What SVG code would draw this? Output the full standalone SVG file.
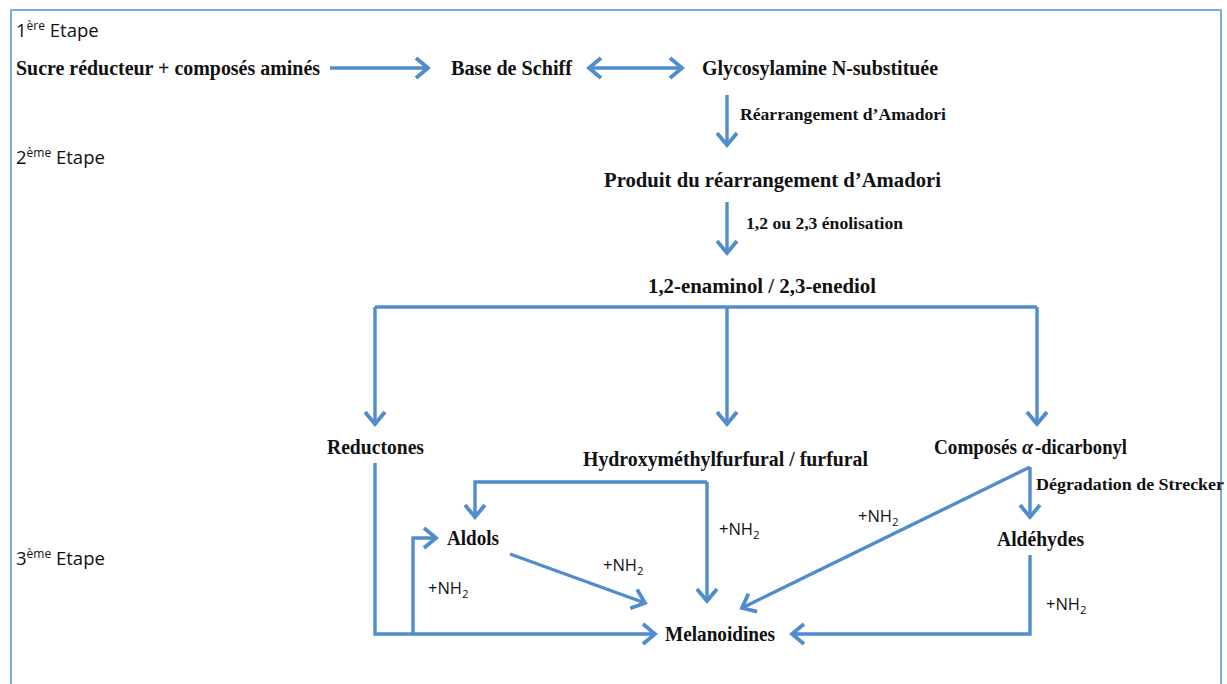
<svg xmlns="http://www.w3.org/2000/svg" width="1227" height="684" viewBox="0 0 1227 684">
  <style>
    .lbl { font-family: "Liberation Serif", "Times New Roman", serif; font-weight: bold; font-size: 20px; fill: #111; }
    .cond { font-family: "Liberation Serif", "Times New Roman", serif; font-weight: bold; font-size: 16.5px; fill: #111; }
    .stage { font-family: "Open Sans", Lato, sans-serif; font-size: 18.5px; fill: #111; }
    .sup { font-size: 12px; }
    .nh { font-family: "Open Sans", Lato, sans-serif; font-size: 16.5px; fill: #111; }
    .sub { font-size: 11.5px; }
    .wire { fill: none; stroke: #4f8dcd; stroke-width: 3.4; stroke-linejoin: miter; }
    .head { marker-end: url(#chev); }
  </style>
  <defs>
    <marker id="chev" markerUnits="userSpaceOnUse" markerWidth="22" markerHeight="24" viewBox="0 0 22 24" refX="19" refY="12" orient="auto-start-reverse">
      <path d="M7,2 L19,12 L7,22" fill="none" stroke="#4f8dcd" stroke-width="3.8"/>
    </marker>
  </defs>

  <rect width="1227" height="684" fill="#ffffff"/>
  <!-- frame: open at the bottom -->
  <path d="M11,700 V10 H1221 V700" fill="none" stroke="#7eaadd" stroke-width="2"/>

  <!-- stage headings -->
  <g id="stage1"><text class="stage" x="16" y="37">1<tspan class="sup" dy="-7">ère</tspan><tspan dy="7"> Etape</tspan></text></g>
  <g id="stage2"><text class="stage" x="16" y="164">2<tspan class="sup" dy="-7">ème</tspan><tspan dy="7"> Etape</tspan></text></g>
  <g id="stage3"><text class="stage" x="16" y="565">3<tspan class="sup" dy="-7">ème</tspan><tspan dy="7"> Etape</tspan></text></g>

  <!-- nodes -->
  <g id="sucre"><text class="lbl" x="16" y="75" textLength="304" lengthAdjust="spacingAndGlyphs">Sucre réducteur + composés aminés</text></g>
  <g id="schiff"><text class="lbl" x="451" y="75" textLength="121" lengthAdjust="spacingAndGlyphs">Base de Schiff</text></g>
  <g id="glycosylamine"><text class="lbl" x="702" y="75" textLength="236" lengthAdjust="spacingAndGlyphs">Glycosylamine  N-substituée</text></g>
  <g id="amadori"><text class="lbl" x="604" y="187" textLength="337" lengthAdjust="spacingAndGlyphs">Produit du réarrangement  d’Amadori</text></g>
  <g id="enaminol"><text class="lbl" x="648" y="293" textLength="228" lengthAdjust="spacingAndGlyphs">1,2-enaminol / 2,3-enediol</text></g>
  <g id="reductones"><text class="lbl" x="327" y="454" textLength="97" lengthAdjust="spacingAndGlyphs">Reductones</text></g>
  <g id="hmf"><text class="lbl" x="583" y="466" textLength="285" lengthAdjust="spacingAndGlyphs">Hydroxyméthylfurfural  / furfural</text></g>
  <g id="dicarbonyl">
    <text class="lbl" x="934" y="454" textLength="83" lengthAdjust="spacingAndGlyphs">Composés</text>
    <text class="lbl" x="1022" y="454" font-style="italic">α</text>
    <text class="lbl" x="1035" y="454" textLength="92" lengthAdjust="spacingAndGlyphs">-dicarbonyl</text>
  </g>
  <g id="aldols"><text class="lbl" x="447" y="545" textLength="52" lengthAdjust="spacingAndGlyphs">Aldols</text></g>
  <g id="aldehydes"><text class="lbl" x="997" y="546" textLength="87" lengthAdjust="spacingAndGlyphs">Aldéhydes</text></g>
  <g id="melanoidines"><text class="lbl" x="665" y="641" textLength="110" lengthAdjust="spacingAndGlyphs">Melanoidines</text></g>

  <!-- connectors -->
  <g id="connectors">
    <path class="wire head" d="M330,68 H428"/>
    <path class="wire head" d="M589,68 H682" marker-start="url(#chev)"/>
    <path class="wire head" d="M727,95 V145"/>
    <path class="wire head" d="M727,202 V253"/>
    <path class="wire" d="M375,307 H1037"/>
    <path class="wire head" d="M375,307 V424"/>
    <path class="wire head" d="M727,307 V424"/>
    <path class="wire head" d="M1037,307 V424"/>
    <path class="wire head" d="M375,463 V634 H655"/>
    <path class="wire head" d="M413,634 V538 H436"/>
    <path class="wire head" d="M707,482 H475 V517"/>
    <path class="wire head" d="M707,482 V601"/>
    <path class="wire head" d="M510,554 L645,603"/>
    <path class="wire head" d="M1030,467 L742,608"/>
    <path class="wire head" d="M1030,467 V517"/>
    <path class="wire head" d="M1030,555 V634 H792"/>

    <!-- connector labels -->
    <text class="cond" x="740" y="120" textLength="206" lengthAdjust="spacingAndGlyphs">Réarrangement d’Amadori</text>
    <text class="cond" x="746" y="229" textLength="157" lengthAdjust="spacingAndGlyphs">1,2 ou 2,3 énolisation</text>
    <text class="cond" x="1036" y="490" textLength="188" lengthAdjust="spacingAndGlyphs">Dégradation de Strecker</text>
    <text class="nh" x="719" y="535">+NH<tspan class="sub" dy="4">2</tspan></text>
    <text class="nh" x="603" y="571">+NH<tspan class="sub" dy="4">2</tspan></text>
    <text class="nh" x="428" y="594">+NH<tspan class="sub" dy="4">2</tspan></text>
    <text class="nh" x="858" y="522">+NH<tspan class="sub" dy="4">2</tspan></text>
    <text class="nh" x="1046" y="610">+NH<tspan class="sub" dy="4">2</tspan></text>
  </g>
</svg>
